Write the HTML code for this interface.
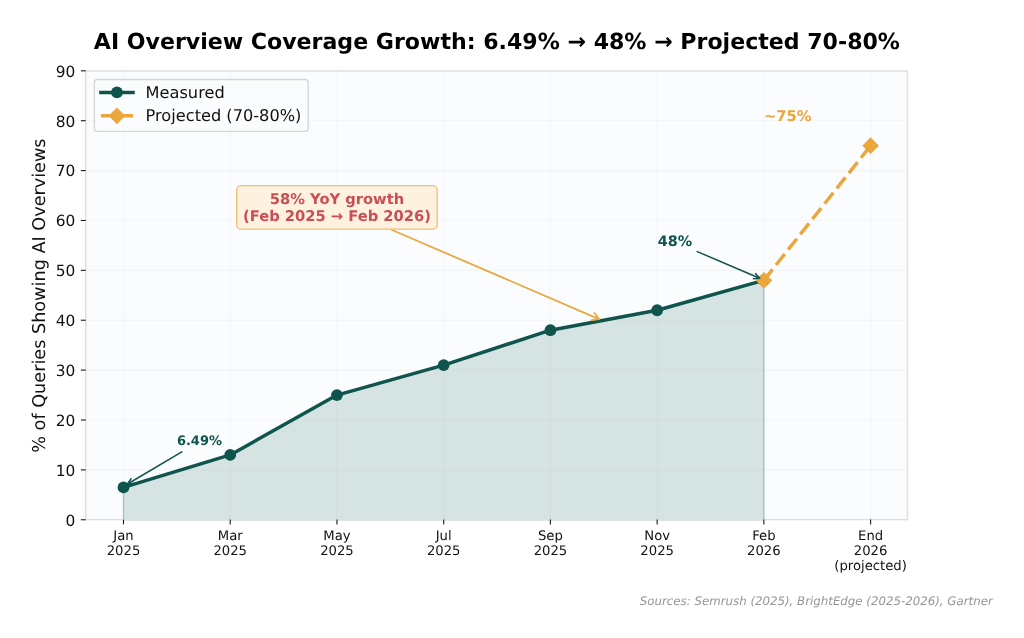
<!DOCTYPE html>
<html lang="en">
<head>
<meta charset="utf-8">
<title>AI Overview Coverage Growth</title>
<style>
html,body{margin:0;padding:0;background:#fff;}
body{width:1024px;height:638px;overflow:hidden;}
svg{display:block;}
text{font-family:"DejaVu Sans","Liberation Sans",sans-serif;text-rendering:geometricPrecision;}
.b{font-weight:bold;}
.tk{font-size:15.4px;fill:#111111;}
.xt{font-size:13.2px;fill:#111111;text-anchor:middle;}
</style>
</head>
<body>
<svg width="1024" height="638" viewBox="0 0 1024 638">
<rect x="0" y="0" width="1024" height="638" fill="#ffffff"/>
<rect x="85.70" y="70.95" width="821.80" height="448.65" fill="#fafcfd"/>
<polygon points="123.50,519.75 123.50,487.38 230.23,454.91 336.96,395.05 443.69,365.12 550.42,330.21 657.15,310.25 763.88,280.33 763.88,519.75" fill="#10544e" fill-opacity="0.15" stroke="#10544e" stroke-opacity="0.28" stroke-width="1.4" stroke-linejoin="miter"/>
<g stroke="#b4bac2" stroke-opacity="0.11" stroke-width="1.1" fill="none">
<line x1="123.50" y1="70.95" x2="123.50" y2="519.60"/>
<line x1="230.23" y1="70.95" x2="230.23" y2="519.60"/>
<line x1="336.96" y1="70.95" x2="336.96" y2="519.60"/>
<line x1="443.69" y1="70.95" x2="443.69" y2="519.60"/>
<line x1="550.42" y1="70.95" x2="550.42" y2="519.60"/>
<line x1="657.15" y1="70.95" x2="657.15" y2="519.60"/>
<line x1="763.88" y1="70.95" x2="763.88" y2="519.60"/>
<line x1="870.61" y1="70.95" x2="870.61" y2="519.60"/>
<line x1="85.70" y1="519.75" x2="907.50" y2="519.75"/>
<line x1="85.70" y1="469.87" x2="907.50" y2="469.87"/>
<line x1="85.70" y1="419.99" x2="907.50" y2="419.99"/>
<line x1="85.70" y1="370.11" x2="907.50" y2="370.11"/>
<line x1="85.70" y1="320.23" x2="907.50" y2="320.23"/>
<line x1="85.70" y1="270.35" x2="907.50" y2="270.35"/>
<line x1="85.70" y1="220.47" x2="907.50" y2="220.47"/>
<line x1="85.70" y1="170.59" x2="907.50" y2="170.59"/>
<line x1="85.70" y1="120.71" x2="907.50" y2="120.71"/>
<line x1="85.70" y1="70.83" x2="907.50" y2="70.83"/>
</g>
<rect x="85.70" y="70.95" width="821.80" height="448.65" fill="none" stroke="#dedfe0" stroke-width="1.4"/>
<g stroke="#1a1a1a" stroke-width="1.1">
<line x1="123.50" y1="519.60" x2="123.50" y2="524.40"/>
<line x1="230.23" y1="519.60" x2="230.23" y2="524.40"/>
<line x1="336.96" y1="519.60" x2="336.96" y2="524.40"/>
<line x1="443.69" y1="519.60" x2="443.69" y2="524.40"/>
<line x1="550.42" y1="519.60" x2="550.42" y2="524.40"/>
<line x1="657.15" y1="519.60" x2="657.15" y2="524.40"/>
<line x1="763.88" y1="519.60" x2="763.88" y2="524.40"/>
<line x1="870.61" y1="519.60" x2="870.61" y2="524.40"/>
<line x1="80.90" y1="519.75" x2="85.70" y2="519.75"/>
<line x1="80.90" y1="469.87" x2="85.70" y2="469.87"/>
<line x1="80.90" y1="419.99" x2="85.70" y2="419.99"/>
<line x1="80.90" y1="370.11" x2="85.70" y2="370.11"/>
<line x1="80.90" y1="320.23" x2="85.70" y2="320.23"/>
<line x1="80.90" y1="270.35" x2="85.70" y2="270.35"/>
<line x1="80.90" y1="220.47" x2="85.70" y2="220.47"/>
<line x1="80.90" y1="170.59" x2="85.70" y2="170.59"/>
<line x1="80.90" y1="120.71" x2="85.70" y2="120.71"/>
<line x1="80.90" y1="70.83" x2="85.70" y2="70.83"/>
</g>
<text class="tk" text-anchor="end" x="75.40" y="525.65">0</text>
<text class="tk" text-anchor="end" x="75.40" y="475.77">10</text>
<text class="tk" text-anchor="end" x="75.40" y="425.89">20</text>
<text class="tk" text-anchor="end" x="75.40" y="376.01">30</text>
<text class="tk" text-anchor="end" x="75.40" y="326.13">40</text>
<text class="tk" text-anchor="end" x="75.40" y="276.25">50</text>
<text class="tk" text-anchor="end" x="75.40" y="226.37">60</text>
<text class="tk" text-anchor="end" x="75.40" y="176.49">70</text>
<text class="tk" text-anchor="end" x="75.40" y="126.61">80</text>
<text class="tk" text-anchor="end" x="75.40" y="76.73">90</text>
<text class="xt" x="123.50" y="540.30">Jan</text>
<text class="xt" x="123.50" y="555.35">2025</text>
<text class="xt" x="230.23" y="540.30">Mar</text>
<text class="xt" x="230.23" y="555.35">2025</text>
<text class="xt" x="336.96" y="540.30">May</text>
<text class="xt" x="336.96" y="555.35">2025</text>
<text class="xt" x="443.69" y="540.30">Jul</text>
<text class="xt" x="443.69" y="555.35">2025</text>
<text class="xt" x="550.42" y="540.30">Sep</text>
<text class="xt" x="550.42" y="555.35">2025</text>
<text class="xt" x="657.15" y="540.30">Nov</text>
<text class="xt" x="657.15" y="555.35">2025</text>
<text class="xt" x="763.88" y="540.30">Feb</text>
<text class="xt" x="763.88" y="555.35">2026</text>
<text class="xt" x="870.61" y="540.30">End</text>
<text class="xt" x="870.61" y="555.35">2026</text>
<text class="xt" x="870.61" y="570.40">(projected)</text>
<text transform="translate(45.3,295.6) rotate(-90)" text-anchor="middle" font-size="17.65px" fill="#111111">% of Queries Showing AI Overviews</text>
<text class="b" x="496.9" y="49.45" text-anchor="middle" font-size="22.08px" fill="#000000">AI Overview Coverage Growth: 6.49% → 48% → Projected 70-80%</text>
<polyline points="123.50,487.38 230.23,454.91 336.96,395.05 443.69,365.12 550.42,330.21 657.15,310.25 763.88,280.33" fill="none" stroke="#10544e" stroke-width="3.45" stroke-linejoin="round" stroke-linecap="square"/>
<circle cx="123.50" cy="487.38" r="5.9" fill="#10544e"/>
<circle cx="230.23" cy="454.91" r="5.9" fill="#10544e"/>
<circle cx="336.96" cy="395.05" r="5.9" fill="#10544e"/>
<circle cx="443.69" cy="365.12" r="5.9" fill="#10544e"/>
<circle cx="550.42" cy="330.21" r="5.9" fill="#10544e"/>
<circle cx="657.15" cy="310.25" r="5.9" fill="#10544e"/>
<circle cx="763.88" cy="280.33" r="5.9" fill="#10544e"/>
<line x1="763.88" y1="280.33" x2="870.61" y2="145.65" stroke="#eba63c" stroke-width="3.45" stroke-dasharray="14 5.55"/>
<polygon points="763.88,271.98 772.23,280.33 763.88,288.68 755.53,280.33" fill="#eba63c"/>
<polygon points="870.61,137.30 878.96,145.65 870.61,154.00 862.26,145.65" fill="#eba63c"/>
<g fill="none" stroke="#10544e" stroke-width="1.5" stroke-linecap="round" stroke-linejoin="round">
<path d="M181.80,451.80 L127.60,484.00"/>
<path d="M130.98,478.73 L127.60,484.00 L133.84,483.55"/>
<path d="M697.30,251.60 L759.60,278.30"/>
<path d="M753.35,278.67 L759.60,278.30 L755.56,273.52"/>
</g>
<g fill="none" stroke="#eba63c" stroke-width="1.75" stroke-linecap="round" stroke-linejoin="round">
<path d="M391.50,229.70 L598.90,319.10"/>
<path d="M591.52,320.06 L598.90,319.10 L594.53,313.08"/>
</g>
<text class="b" x="176.9" y="445.3" font-size="13.0px" fill="#10544e">6.49%</text>
<text class="b" x="657.8" y="245.6" font-size="14.4px" fill="#10544e">48%</text>
<text class="b" x="763.9" y="121.3" font-size="14.7px" fill="#eba63c">~75%</text>
<rect x="236.7" y="185.7" width="200.5" height="43.5" rx="4.3" ry="4.3" fill="#fef1df" stroke="#f1bf73" stroke-width="1.3"/>
<text class="b" x="337.0" y="203.9" text-anchor="middle" font-size="14.7px" fill="#c94f54">58% YoY growth</text>
<text class="b" x="337.0" y="221.1" text-anchor="middle" font-size="14.7px" fill="#c94f54">(Feb 2025 → Feb 2026)</text>
<rect x="94.4" y="79.5" width="213.8" height="51.8" rx="3" ry="3" fill="#fafcfd" fill-opacity="0.85" stroke="#d2d5d8" stroke-width="1.3"/>
<line x1="100.9" y1="92.4" x2="133.0" y2="92.4" stroke="#10544e" stroke-width="3.45" stroke-linecap="square"/>
<circle cx="116.95" cy="92.4" r="5.9" fill="#10544e"/>
<line x1="100.9" y1="115.8" x2="133.0" y2="115.8" stroke="#eba63c" stroke-width="3.45" stroke-dasharray="14 5.55"/>
<polygon points="116.95,107.45 125.30,115.80 116.95,124.15 108.60,115.80" fill="#eba63c"/>
<text x="145.6" y="98.2" font-size="16.2px" fill="#111111">Measured</text>
<text x="145.6" y="121.2" font-size="16.2px" fill="#111111">Projected (70-80%)</text>
<text x="992.8" y="604.8" text-anchor="end" font-size="11.8px" font-style="italic" fill="#969696">Sources: Semrush (2025), BrightEdge (2025-2026), Gartner</text>
</svg>
</body>
</html>
